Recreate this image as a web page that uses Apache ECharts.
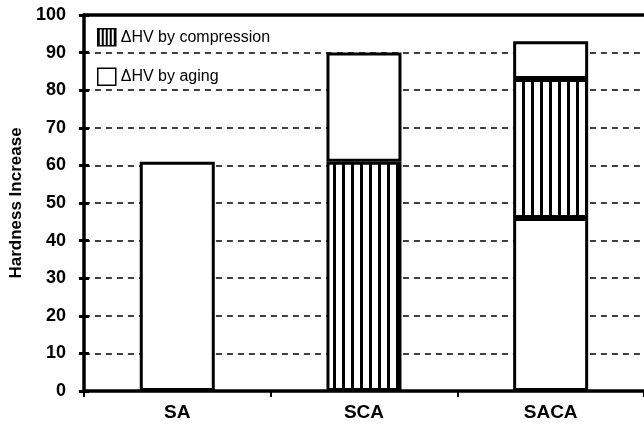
<!DOCTYPE html>
<html><head><meta charset="utf-8">
<script src="https://cdn.jsdelivr.net/npm/echarts@6/dist/echarts.min.js"></script>
<style>html,body{margin:0;padding:0;background:#fff}#c{width:644px;height:434px}</style>
</head><body><div id="c"></div>
<script>
const categories = ['SA', 'SCA', 'SACA'];
const agingBottom = [61, null, 46];
const compression = [null, 61, 37];
const agingTop = [null, 29, 10];
const yMin = 0, yMax = 100, yInterval = 10;
const nameCompression = 'ΔHV by compression';
const nameAging = 'ΔHV by aging';

function makeHatch(period, stripe) {
  const pc = document.createElement('canvas');
  pc.width = period; pc.height = period;
  const ctx = pc.getContext('2d');
  ctx.fillStyle = '#fff'; ctx.fillRect(0, 0, period, period);
  ctx.fillStyle = '#000'; ctx.fillRect(0, 0, stripe, period);
  return { image: pc, repeat: 'repeat' };
}
const hatch = makeHatch(9, 3);
const hatchSmall = makeHatch(4, 2);

const font = 'Liberation Sans, Arial, sans-serif';
const chart = echarts.init(document.getElementById('c'), null, { renderer: 'canvas' });
const barStyle = (color) => ({ color: color, borderColor: '#000', borderWidth: 3 });
chart.setOption({
  animation: false,
  backgroundColor: '#fff',
  grid: { left: 81, right: -4, top: 15, bottom: 43 },
  legend: {
    orient: 'vertical', left: 92, top: 23,
    itemWidth: 18, itemHeight: 17, itemGap: 21,
    icon: 'rect',
    data: [
      { name: nameCompression, itemStyle: { color: hatchSmall, borderColor: '#000', borderWidth: 1.5 } },
      { name: nameAging, itemStyle: { color: '#fff', borderColor: '#000', borderWidth: 1.5 } }
    ],
    itemStyle: { borderColor: '#000', borderWidth: 1.5 },
    textStyle: { fontFamily: font, fontSize: 16, color: '#000' }
  },
  xAxis: [{
    type: 'category', data: categories,
    axisLine: { lineStyle: { color: '#000', width: 3.5 } },
    axisTick: { show: true, length: 6, lineStyle: { color: '#000', width: 2 } },
    axisLabel: { color: '#000', fontFamily: font, fontSize: 19, fontWeight: 'bold', margin: 12 }
  }, {
    type: 'category', data: categories, position: 'top',
    axisLine: { onZero: false, lineStyle: { color: '#000', width: 3.5 } },
    axisTick: { show: false }, axisLabel: { show: false }
  }],
  yAxis: [{
    type: 'value', min: yMin, max: yMax, interval: yInterval,
    name: 'Hardness Increase', nameLocation: 'middle', nameGap: 52, nameRotate: 90,
    nameTextStyle: { fontFamily: font, fontSize: 17, fontWeight: 'bold', color: '#000' },
    axisLine: { show: true, lineStyle: { color: '#000', width: 3.5 } },
    axisTick: { show: true, length: 5, lineStyle: { color: '#000', width: 3 } },
    axisLabel: { color: '#000', fontFamily: font, fontSize: 18, fontWeight: 'bold', margin: 18 },
    splitLine: { lineStyle: { color: '#000', width: 1.5, type: [6, 5] } }
  }, {
    type: 'value', position: 'left', min: yMin, max: yMax, interval: yInterval,
    axisLine: { show: false },
    axisTick: { show: true, inside: true, length: 5, lineStyle: { color: '#000', width: 3 } },
    axisLabel: { show: false }, splitLine: { show: false }
  }],
  series: [
    { name: nameAging, type: 'bar', stack: 's', data: agingBottom, barWidth: 75, itemStyle: barStyle('#fff') },
    { name: nameCompression, type: 'bar', stack: 's', data: compression, barWidth: 75, itemStyle: barStyle(hatch) },
    { name: nameAging, type: 'bar', stack: 's', data: agingTop, barWidth: 75, itemStyle: barStyle('#fff') }
  ]
});
</script></body></html>
